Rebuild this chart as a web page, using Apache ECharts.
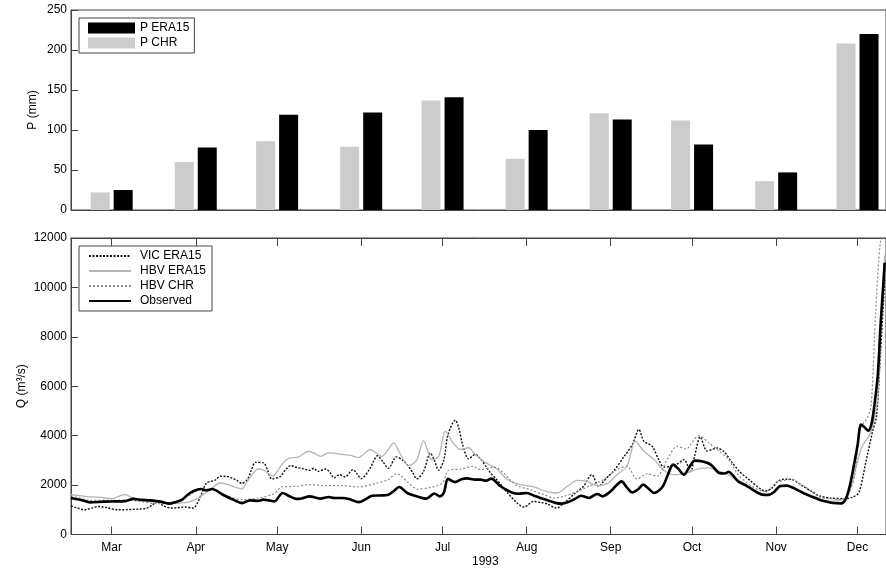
<!DOCTYPE html>
<html><head><meta charset="utf-8">
<script src="https://cdn.jsdelivr.net/npm/echarts@6/dist/echarts.min.js"></script>
<style>html,body{margin:0;padding:0;background:#fff}#c{width:886px;height:569px}</style>
</head><body><div id="c"></div>
<script>
// Month ticks (day index from Feb 14, 1993)
const months = ['Mar','Apr','May','Jun','Jul','Aug','Sep','Oct','Nov','Dec'];
const monthDays = [15,46,76,107,137,168,199,229,260,290];
const yearLabel = '1993';

// Monthly precipitation (mm)
const pEra15 = [25,78,119,122,141,100,113,82,47,220];
const pChr   = [22,60,86,79,137,64,121,112,36,208];

// Daily discharge (m3/s), sampled [day, Q]
const vicEra15 = [[0,1150],[1.5,1100],[5,1000],[8,1080],[10,1135],[13,1090],[17,1000],[21,1010],[25,1030],[28,1070],[30,1200],[32,1340],[34,1165],[37,1070],[40,1090],[42,1110],[45,1070],[46.5,1250],[48,1610],[50,2085],[53,2190],[55,2355],[57,2360],[59,2300],[61,2200],[63,2070],[65,2220],[66.5,2600],[68,2920],[71,2900],[72.5,2600],[74,2250],[77,2330],[79,2600],[81,2790],[83,2720],[85,2680],[88,2600],[89.5,2680],[91,2556],[94,2650],[95.5,2500],[97,2290],[99,2420],[101,2330],[104,2625],[105.5,2450],[107,2260],[110,2625],[111.5,2950],[113,3190],[115,2950],[117,2680],[120,3140],[122,3030],[124,2820],[126,2500],[127.5,2250],[130,2556],[132.5,3300],[134,3000],[135.5,2600],[137.5,3030],[139,4045],[141.7,4625],[143,4300],[144.5,3600],[146.6,3060],[149,3240],[151,3060],[153.4,2690],[155,2450],[157,2220],[159,1950],[161,1680],[164.5,1273],[167,1110],[170.6,1340],[173,1300],[175.5,1245],[179,1070],[182,1300],[186,1680],[189,1950],[192,2422],[194.6,1950],[196.4,2150],[198,2350],[200,2556],[204,3165],[207,3640],[209.4,4250],[211.2,3780],[214.3,3570],[216.7,3030],[218.6,2733],[221,2750],[223.5,2850],[226,3030],[228.4,2550],[230,3200],[232,3950],[234.5,3380],[236.5,3450],[238.2,3500],[240.8,3350],[243.5,2950],[246.5,2550],[250,2220],[254.5,1820],[256,1760],[258.5,1880],[260.5,2150],[263,2240],[266,2220],[268,2100],[270,1950],[273,1750],[276,1560],[280,1477],[285,1450],[288,1500],[290.5,1700],[293,2900],[295.5,4150],[297,4800],[298.5,7400],[300,10300]];

const hbvEra15 = [[0,1610],[4,1560],[7,1520],[11,1500],[15,1450],[18,1560],[20,1610],[22,1520],[25,1410],[28,1350],[32,1300],[37,1245],[40,1270],[43,1300],[46,1420],[48,1545],[50,1720],[52,1880],[55,2085],[57,2050],[59,1976],[61,1900],[63,1840],[65,2150],[67,2450],[69,2650],[71,2600],[73,2450],[74.4,2355],[76,2550],[77.5,2790],[80,3070],[84,3140],[87.6,3370],[90,3270],[92,3165],[95,3300],[100,3240],[103,3200],[106,3110],[108,3250],[110.3,3440],[112.5,3300],[114.6,3165],[117,3450],[119,3710],[121,3350],[124.4,2790],[126,2850],[127.6,3030],[130,3800],[131.5,3400],[133,3030],[135.6,3165],[138,4180],[140.5,3780],[143.5,3440],[146.6,3510],[148.5,3300],[150.3,3110],[153,2900],[157,2650],[161,2220],[165.7,2017],[170.6,1923],[175.5,1740],[179.2,1680],[183,1950],[186.6,2190],[190.3,2150],[194,1976],[197.7,2060],[201.3,2422],[205,2760],[208.1,3780],[211.2,3370],[215,3030],[218.6,2600],[222.3,2420],[226,2450],[231,2650],[235,2700],[239,2556],[242.5,2422],[246,2150],[251,1813],[256,1650],[259,1680],[262,1950],[266,1923],[271,1610],[276,1380],[280.6,1340],[284.3,1410],[286.7,1610],[289.2,2625],[291.7,3570],[294.8,4110],[297.3,5460],[298.7,8500],[300,11300]];

const hbvChr = [[0,1570],[4,1450],[7,1380],[15,1380],[20,1400],[25,1340],[32,1245],[37,1245],[40,1380],[43,1545],[46,1750],[48,1840],[53,1813],[56,1650],[58,1545],[63,1410],[69,1477],[74,1610],[76,1750],[77.5,1923],[83,1950],[88,2017],[94,1976],[100,1976],[106,1923],[112,2060],[117,2220],[120,2460],[122,2350],[124.4,2085],[128,1840],[133,1923],[137,2085],[139.2,2600],[144,2650],[148,2760],[151,2625],[156,2733],[159.5,2490],[162,2200],[164.5,1976],[169.3,1813],[174.3,1610],[178,1477],[181.7,1545],[186.6,1740],[191.5,1976],[196.4,2220],[201.3,2625],[205,2760],[208.7,2247],[212.4,2460],[216,2355],[219.8,3030],[223.5,3570],[227,3460],[228.4,3640],[231.4,4000],[235.2,3710],[239,3370],[242.5,3030],[246,2422],[251,1950],[256,1740],[260,2085],[265,2220],[270,1976],[276,1520],[280.6,1436],[284.3,1410],[286.7,1680],[289,2400],[291,4300],[293.5,4700],[295,5200],[296.7,9000],[298.5,11900],[300,12000]];

const observed = [[0,1480],[4,1390],[7,1300],[12,1330],[16,1340],[20,1350],[23,1440],[26,1400],[29,1380],[33,1330],[36,1250],[39,1330],[41,1410],[43,1610],[45,1750],[48,1840],[50,1790],[52,1840],[56,1610],[60,1400],[63,1270],[66,1380],[69,1360],[71,1410],[73,1380],[75,1340],[78,1680],[80,1580],[83,1440],[85,1460],[88,1545],[90,1500],[92,1450],[95,1520],[97,1480],[100,1480],[103,1420],[106,1310],[109,1450],[111,1570],[114,1580],[117,1610],[119,1760],[121,1920],[124,1680],[128,1530],[131,1450],[134,1660],[136,1545],[137.5,1700],[139,2250],[141.5,2120],[144,2240],[146,2270],[149,2220],[151,2220],[153,2180],[155,2260],[158,1980],[160,1840],[163,1680],[165,1650],[168,1680],[171,1560],[173,1480],[176,1380],[179,1270],[181,1250],[183,1300],[186,1450],[188,1570],[191,1480],[194,1640],[196,1545],[199,1750],[201,1980],[203,2150],[205,1900],[207,1700],[209,1820],[211,2020],[213,1850],[215,1680],[217,1800],[218.5,2000],[220,2400],[222,2830],[224,2650],[226,2420],[228,2730],[230,2990],[233,2950],[236,2820],[239,2490],[241,2470],[242.5,2540],[244,2400],[246,2150],[249,1980],[251,1840],[255,1610],[257,1600],[259,1700],[261.5,1960],[264,1980],[266,1900],[270,1680],[273,1540],[276,1410],[279,1320],[281,1273],[284,1260],[285.5,1400],[287,1900],[288.5,2700],[290,3600],[291.3,4450],[292.5,4350],[294,4200],[295.2,4500],[296.3,5300],[297.5,6500],[298.5,8500],[299.3,9800],[300,11000]];

const FONT = '"Liberation Sans", Arial, sans-serif';
const AX = '#444';
const chart = echarts.init(document.getElementById('c'), null, {renderer:'canvas'});

const xBase = {type:'value', min:0, max:300.5, splitLine:{show:false},
  axisLine:{show:true, lineStyle:{color:AX}}};
const plain = v => String(v);

chart.setOption({
  animation:false,
  textStyle:{fontFamily:FONT},
  title:{text:yearLabel, left:472, top:556, padding:0,
    textStyle:{fontSize:12, fontWeight:'normal', color:'#000', fontFamily:FONT}},
  grid:[
    {left:71, right:0, top:10, height:200, show:true, borderColor:AX, borderWidth:1, containLabel:false},
    {left:71, right:0, top:238, bottom:34.5, show:true, borderColor:AX, borderWidth:1, containLabel:false}
  ],
  xAxis:[
    Object.assign({}, xBase, {gridIndex:0, axisTick:{show:false}, axisLabel:{show:false}}),
    Object.assign({}, xBase, {gridIndex:1, position:'bottom',
      axisTick:{show:true, inside:true, length:8, lineStyle:{color:AX}, customValues:monthDays},
      axisLabel:{show:true, customValues:monthDays, margin:7, fontSize:12, color:'#000', fontFamily:FONT,
        formatter:v=>months[monthDays.indexOf(Math.round(v))] || ''}}),
    Object.assign({}, xBase, {gridIndex:1, position:'top',
      axisTick:{show:true, inside:true, length:8, lineStyle:{color:AX}, customValues:monthDays},
      axisLabel:{show:false}})
  ],
  yAxis:[
    {type:'value', gridIndex:0, min:0, max:250, interval:50, splitLine:{show:false},
      axisLine:{show:true, lineStyle:{color:AX}},
      axisTick:{show:true, inside:true, length:7, lineStyle:{color:AX}},
      axisLabel:{fontSize:12, color:'#000', margin:4, fontFamily:FONT, formatter:plain},
      name:'P (mm)', nameLocation:'middle', nameGap:32, nameRotate:90, nameMoveOverlap:false,
      nameTextStyle:{fontSize:12, color:'#000', fontFamily:FONT}},
    {type:'value', gridIndex:1, min:0, max:12000, interval:2000, splitLine:{show:false},
      axisLine:{show:true, lineStyle:{color:AX}},
      axisTick:{show:true, inside:true, length:7, lineStyle:{color:AX}},
      axisLabel:{fontSize:12, color:'#000', margin:4, fontFamily:FONT, formatter:plain},
      name:'Q (m³/s)', nameLocation:'middle', nameGap:43, nameRotate:90, nameMoveOverlap:false,
      nameTextStyle:{fontSize:12, color:'#000', fontFamily:FONT}}
  ],
  legend:[
    {orient:'vertical', left:79, top:18, data:['P ERA15','P CHR'], icon:'rect',
      itemWidth:47, itemHeight:11, itemGap:1, padding:[3,5,3,9],
      borderColor:AX, borderWidth:1, backgroundColor:'#fff', borderRadius:0,
      textStyle:{fontSize:12, lineHeight:14, color:'#000', fontFamily:FONT}},
    {orient:'vertical', left:79, top:246, data:['VIC ERA15','HBV ERA15','HBV CHR','Observed'],
      itemWidth:42, itemHeight:11, itemGap:1, padding:[3,6,3,9],
      borderColor:AX, borderWidth:1, backgroundColor:'#fff', borderRadius:0,
      itemStyle:{color:'rgba(0,0,0,0)', borderColor:'rgba(0,0,0,0)', borderWidth:0, opacity:0},
      textStyle:{fontSize:12, lineHeight:14, color:'#000', fontFamily:FONT, padding:[0,0,0,4]}}
  ],
  series:[
    {name:'P CHR', type:'bar', xAxisIndex:0, yAxisIndex:0, barWidth:19, barGap:'21%',
      itemStyle:{color:'#cccccc'}, data:monthDays.map((d,i)=>[d,pChr[i]])},
    {name:'P ERA15', type:'bar', xAxisIndex:0, yAxisIndex:0, barWidth:19, barGap:'21%',
      itemStyle:{color:'#000000'}, data:monthDays.map((d,i)=>[d,pEra15[i]])},
    {name:'VIC ERA15', type:'line', xAxisIndex:1, yAxisIndex:1, symbol:'none', smooth:0.3,
      lineStyle:{color:'#111', width:1.4, type:[2,1.5]}, itemStyle:{color:'#111'}, data:vicEra15},
    {name:'HBV ERA15', type:'line', xAxisIndex:1, yAxisIndex:1, symbol:'none', smooth:0.3,
      lineStyle:{color:'#b5b5b5', width:1.3}, itemStyle:{color:'#b5b5b5'}, data:hbvEra15},
    {name:'HBV CHR', type:'line', xAxisIndex:1, yAxisIndex:1, symbol:'none', smooth:0.3,
      lineStyle:{color:'#8a8a8a', width:1.2, type:[2,2]}, itemStyle:{color:'#8a8a8a'}, data:hbvChr},
    {name:'Observed', type:'line', xAxisIndex:1, yAxisIndex:1, symbol:'none', smooth:0.3,
      lineStyle:{color:'#000', width:2.6}, itemStyle:{color:'#000'}, data:observed}
  ]
});
</script></body></html>
